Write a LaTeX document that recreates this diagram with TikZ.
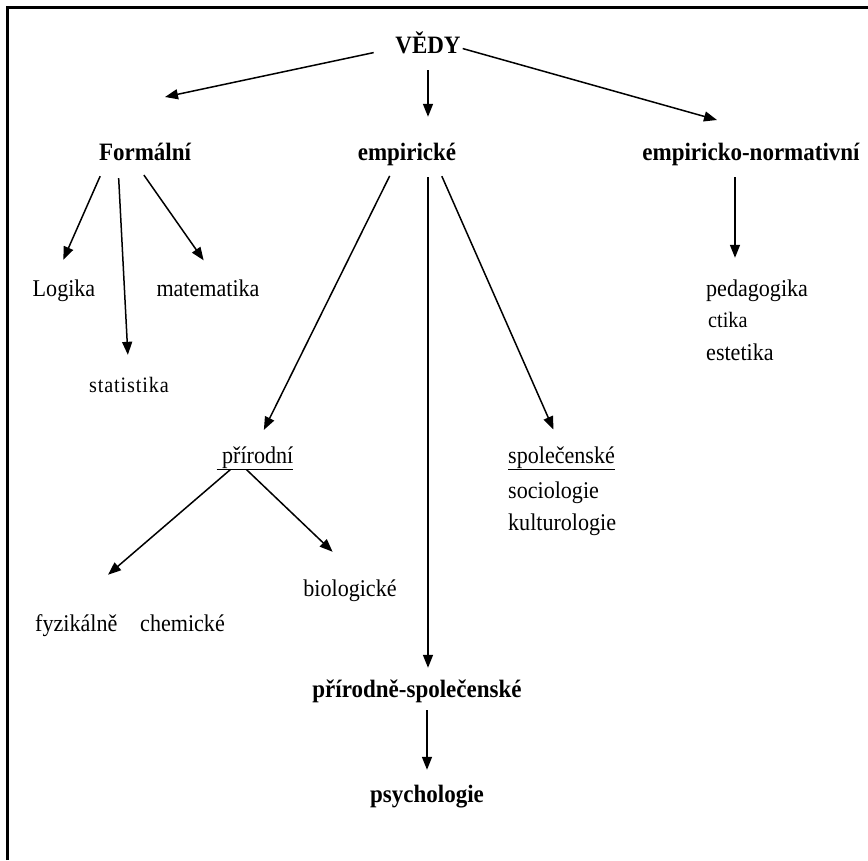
\documentclass[tikz,border=0pt]{standalone}
\usepackage{fontspec}
\setmainfont[FakeStretch=0.92]{Liberation Serif}
\usetikzlibrary{arrows.meta}

\begin{document}
\begin{tikzpicture}[ x=1pt, y=-1pt, >={Triangle[length=13pt,width=10pt]},
    lbl/.style={anchor=base, inner sep=0pt, text height=15pt, text depth=5pt, font=\fontsize{24}{28}\selectfont},
    hd/.style={lbl, font=\fontsize{25}{29}\selectfont\bfseries},
    sm/.style={lbl, font=\fontsize{22}{26}\selectfont},
    spaced/.style={lbl, font=\fontsize{22}{26}\selectfont\addfontfeature{LetterSpace=4}},
    arr/.style={->, line width=1.5pt} ]
    \useasboundingbox (0,0) rectangle (868,860);

    % Frame
    \draw[line width=3pt] (7,860) -- (7,7) -- (868,7);

    % Top level
    \node[hd] (vedy) at (428,53) {VĚDY};
    \node[hd] (formalni) at (145,160) {Formální};
    \node[hd] (empiricke) at (407,160) {empirické};
    \node[hd] (empnorm) at (751,160) {empiricko-normativní};
    \coordinate (tipF) at (165,97);
    \coordinate (tipN) at (717,120);

    % Formalni
    \node[lbl] (logika) at (64,296) {Logika};
    \node[lbl] (matematika) at (208,296) {matematika};
    \node[spaced] (statistika) at (129,392) {statistika};

    % Empiricko-normativni
    \node[lbl, anchor=base west] (pedagogika) at (706,296) {pedagogika};
    \node[sm, anchor=base west] (ctika) at (708,327) {ctika};
    \node[lbl, anchor=base west] (estetika) at (706,360) {estetika};

    % Empiricke
    \node[lbl] (prirodni) at (255,463) {\underline{\ přírodní}};
    \node[lbl, anchor=base west] (spolecenske) at (508,463) {\underline{společenské}};
    \node[lbl, anchor=base west] (sociologie) at (508,498) {sociologie};
    \node[lbl, anchor=base west] (kulturologie) at (508,530) {kulturologie};
    \node[lbl] (biologicke) at (350,596) {biologické};
    \node[lbl, anchor=base west] (fyzikalne) at (35,631) {fyzikálně};
    \node[lbl, anchor=base west] (chemicke) at (140,631) {chemické};
    \node[hd] (prispol) at (417,697) {přírodně-společenské};
    \node[hd] (psychologie) at (427,802) {psychologie};

    % Arrows
    \draw[arr, shorten <=22pt] (vedy.west) -- (tipF);
    \draw[arr, shorten <=12pt, shorten >=28pt] (vedy.south) -- (vedy.south |- empiricke.north);
    \draw[arr, shorten <=2pt] (vedy.east) -- (tipN);

    \draw[arr, shorten <=12pt, shorten >=23pt] ([xshift=-40pt]formalni.south) -- ([xshift=-10pt]logika.north);
    \draw[arr, shorten <=13pt, shorten >=22pt] ([xshift=-27pt]formalni.south) -- (statistika.north);
    \draw[arr, shorten <=12pt, shorten >=25pt] ([xshift=-8pt]formalni.south) -- ([xshift=10pt]matematika.north);

    \draw[arr, shorten <=12pt, shorten >=20pt] ([xshift=-12pt]empiricke.south) -- (prirodni.north);
    \draw[arr, shorten <=12pt, shorten >=14pt] (empiricke.south -| vedy.south) -- (prispol.north -| vedy.south);
    \draw[arr, shorten <=12pt, shorten >=20pt] ([xshift=30pt]empiricke.south) -- (spolecenske.north);

    \draw[arr, shorten <=12pt, shorten >=23pt] ([xshift=-16pt]empnorm.south) -- ([xshift=-16pt]empnorm.south |- pedagogika.north);

    \draw[arr, shorten <=2pt, shorten >=63pt] ([xshift=-23pt]prirodni.south) -- ([xshift=-16pt]fyzikalne.north);
    \draw[arr, shorten <=2pt, shorten >=42pt] ([xshift=-10pt]prirodni.south) -- ([xshift=13pt]biologicke.north);

    \draw[arr, shorten <=8pt, shorten >=17pt] (prispol.south -| psychologie.north) -- (psychologie.north);
  \end{tikzpicture}
\end{document}
